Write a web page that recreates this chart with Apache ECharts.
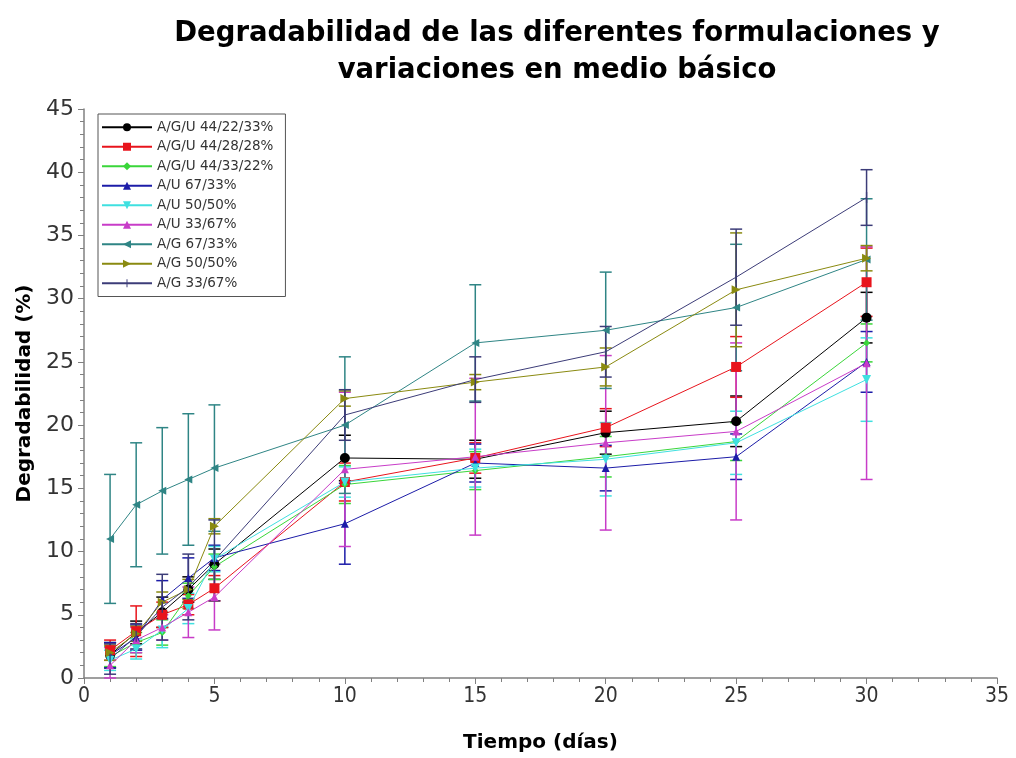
<!DOCTYPE html>
<html>
<head>
<meta charset="utf-8">
<script src="https://cdn.jsdelivr.net/npm/echarts@6/dist/echarts.min.js"></script>
<style>
html,body{margin:0;padding:0;background:#fff;}
#chart{width:1016px;height:758px;}
</style>
</head>
<body>
<div id="chart"></div>
<script type="text/javascript">
// dias de muestreo
var days = [1, 2, 3, 4, 5, 10, 15, 20, 25, 30];

var seriesNames = ['A/G/U 44/22/33%', 'A/G/U 44/28/28%', 'A/G/U 44/33/22%', 'A/U 67/33%', 'A/U 50/50%',
    'A/U 33/67%', 'A/G 67/33%', 'A/G 50/50%', 'A/G 33/67%'];

// degradabilidad media (%)
var agu_44_22_33 = [1.8, 3.6, 5.2, 7.0, 9.0, 17.4, 17.3, 19.4, 20.3, 28.5];
var agu_44_28_28 = [2.2, 3.7, 5.0, 5.8, 7.1, 15.5, 17.4, 19.8, 24.6, 31.3];
var agu_44_33_22 = [1.7, 2.8, 3.6, 6.5, 8.8, 15.3, 16.4, 17.5, 18.7, 26.5];
var au_67_33 = [1.8, 3.2, 6.2, 7.9, 9.5, 12.2, 17.0, 16.6, 17.5, 25.0];
var au_50_50 = [1.4, 2.3, 3.8, 5.5, 9.4, 15.5, 16.6, 17.3, 18.6, 23.6];
var au_33_67 = [1.0, 3.0, 4.0, 5.2, 6.4, 16.5, 17.5, 18.6, 19.5, 24.9];
var ag_67_33 = [11.0, 13.7, 14.8, 15.7, 16.6, 20.0, 26.5, 27.5, 29.3, 33.1];
var ag_50_50 = [2.0, 3.5, 6.0, 7.0, 12.0, 22.1, 23.4, 24.6, 30.7, 33.2];
var ag_33_67 = [1.5, 3.3, 5.6, 7.2, 9.3, 20.8, 23.6, 25.8, 31.7, 38.0];

// desviacion (barras de error)
var err_agu_44_22_33 = [1.0, 0.9, 1.2, 1.0, 1.2, 1.8, 1.5, 1.7, 2.0, 2.0];
var err_agu_44_28_28 = [0.8, 2.0, 1.0, 0.8, 1.0, 1.5, 1.2, 1.5, 2.4, 2.7];
var err_agu_44_33_22 = [0.8, 0.8, 1.0, 1.0, 1.0, 1.5, 1.5, 1.6, 1.5, 1.5];
var err_au_67_33 = [1.0, 1.0, 1.5, 1.6, 1.0, 3.2, 1.5, 1.8, 1.8, 2.4];
var err_au_50_50 = [0.8, 0.8, 1.4, 1.2, 1.0, 1.2, 1.5, 2.9, 2.5, 3.3];
var err_au_33_67 = [1.4, 1.0, 1.0, 2.0, 2.6, 6.1, 6.2, 6.9, 7.0, 9.2];
var err_ag_67_33 = [5.1, 4.9, 5.0, 5.2, 5.0, 5.4, 4.6, 4.6, 5.0, 4.8];
var err_ag_50_50 = [0.6, 0.6, 0.8, 0.8, 0.6, 0.6, 0.6, 1.5, 4.5, 1.0];
var err_ag_33_67 = [1.2, 1.0, 2.6, 2.6, 3.2, 2.0, 1.8, 2.0, 3.8, 2.2];

var values = [agu_44_22_33, agu_44_28_28, agu_44_33_22, au_67_33, au_50_50, au_33_67, ag_67_33, ag_50_50, ag_33_67];
var errors = [err_agu_44_22_33, err_agu_44_28_28, err_agu_44_33_22, err_au_67_33, err_au_50_50, err_au_33_67, err_ag_67_33, err_ag_50_50, err_ag_33_67];

var colors = ['#000000', '#e8141c', '#3ad63a', '#1c1ca8', '#3fe0e0', '#c83cc8', '#2f8585', '#8a8a10', '#3c3c78'];
// la marca "|" lleva dos puntos sueltos para que la caja sea cuadrada
var symbols = ['circle', 'rect', 'diamond', 'triangle', 'path://M0,0L10,0L5,9Z', 'triangle',
    'path://M0,5L9,0L9,10Z', 'path://M9,5L0,0L0,10Z',
    'path://M0,0L0.01,0ZM4.4,0L5.6,0L5.6,10L4.4,10ZM10,10L9.99,10Z'];
var symbolSizes = [10, 10, 7, 8, 9, 8, 8, 9, 11];

var makeErrorBars = function(color) {
    return function(params, api) {
        var x = api.value(0);
        var y = api.value(1);
        var e = api.value(2);
        var hi = api.coord([x, y + e]);
        var lo = api.coord([x, Math.max(0, y - e)]);
        var w = 6;
        var st = { stroke: color, lineWidth: 1.5 };
        return {
            type: 'group',
            children: [
                { type: 'line', shape: { x1: hi[0], y1: hi[1], x2: lo[0], y2: lo[1] }, style: st },
                { type: 'line', shape: { x1: hi[0] - w, y1: hi[1], x2: hi[0] + w, y2: hi[1] }, style: st },
                { type: 'line', shape: { x1: lo[0] - w, y1: lo[1], x2: lo[0] + w, y2: lo[1] }, style: st }
            ]
        };
    };
};

var series = [];
for (var i = 0; i < seriesNames.length; i++) {
    var errData = [];
    for (var j = 0; j < days.length; j++) {
        errData.push([days[j], values[i][j], errors[i][j]]);
    }
    series.push({
        name: 'err_' + i,
        type: 'custom',
        renderItem: makeErrorBars(colors[i]),
        data: errData,
        z: 1,
        silent: true,
        animation: false
    });
}
for (var i = 0; i < seriesNames.length; i++) {
    var lineData = [];
    for (var j = 0; j < days.length; j++) {
        lineData.push([days[j], values[i][j]]);
    }
    series.push({
        name: seriesNames[i],
        type: 'line',
        data: lineData,
        symbol: symbols[i],
        symbolSize: symbolSizes[i],
        showAllSymbol: true,
        itemStyle: { color: colors[i], borderWidth: 0 },
        lineStyle: { color: colors[i], width: 1 },
        z: 3,
        animation: false
    });
}

var option = {
    backgroundColor: '#ffffff',
    title: {
        text: 'Degradabilidad de las diferentes formulaciones y\nvariaciones en medio básico',
        left: 552,
        top: 10,
        textAlign: 'center',
        textStyle: {
            fontFamily: 'DejaVu Sans',
            fontWeight: 'bold',
            fontSize: 27.5,
            lineHeight: 37,
            color: '#000'
        }
    },
    legend: {
        data: seriesNames,
        orient: 'vertical',
        left: 98,
        top: 114,
        itemWidth: 50,
        itemHeight: 10,
        itemGap: 5,
        padding: [6, 12, 6, 3],
        borderColor: '#555',
        borderWidth: 1,
        selectedMode: false,
        textStyle: { fontFamily: 'DejaVu Sans', fontSize: 13.5, lineHeight: 14.5, color: '#333' }
    },
    grid: { left: 84, right: 19, top: 109, bottom: 80, outerBoundsMode: 'none' },
    xAxis: {
        type: 'value',
        min: 0,
        max: 35,
        interval: 5,
        name: 'Tiempo (días)',
        nameLocation: 'middle',
        nameGap: 55,
        nameTextStyle: { fontFamily: 'DejaVu Sans', fontWeight: 'bold', fontSize: 20, color: '#000' },
        axisLine: { onZero: false, lineStyle: { color: '#808080', width: 1.5 } },
        axisTick: { show: true, length: 6, lineStyle: { color: '#808080' } },
        minorTick: { show: true, splitNumber: 5, length: 4, lineStyle: { color: '#808080' } },
        splitLine: { show: false },
        axisLabel: { fontFamily: 'DejaVu Sans Condensed', fontSize: 21, color: '#333', margin: 8 }
    },
    yAxis: {
        type: 'value',
        min: 0,
        max: 45,
        interval: 5,
        name: 'Degradabilidad (%)',
        nameLocation: 'middle',
        nameGap: 38,
        nameTextStyle: { fontFamily: 'DejaVu Sans', fontWeight: 'bold', fontSize: 20, color: '#000' },
        axisLine: { show: true, lineStyle: { color: '#808080', width: 1.5 } },
        axisTick: { show: true, length: 6, lineStyle: { color: '#808080' } },
        minorTick: { show: true, splitNumber: 5, length: 4, lineStyle: { color: '#808080' } },
        splitLine: { show: false },
        axisLabel: { fontFamily: 'DejaVu Sans', fontSize: 22, color: '#333', margin: 10 }
    },
    series: series
};

var chart = echarts.init(document.getElementById('chart'));
chart.setOption(option);
</script>
</body>
</html>
